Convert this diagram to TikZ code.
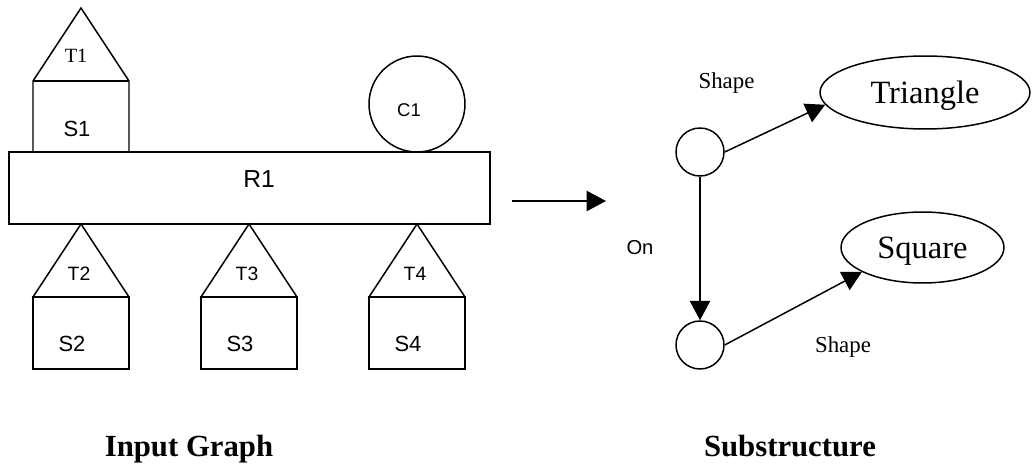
\documentclass[tikz,border=0pt]{standalone}
\usepackage{fontspec}
\setmainfont{Liberation Serif}
\setsansfont{Liberation Sans}
\usetikzlibrary{arrows.meta,shapes.geometric}

\begin{document}
\begin{tikzpicture}[
    x=0.02cm, y=-0.02cm,
    line width=0.85pt,
    lbl/.style={font=\sffamily\fontsize{12.5}{14}\selectfont, anchor=base, inner sep=0pt},
    tlbl/.style={font=\sffamily\fontsize{11}{12}\selectfont, anchor=base, inner sep=0pt},
    vertex/.style={circle, draw, minimum size=0.96cm, inner sep=0pt},
    value/.style={ellipse, draw, inner sep=0pt, text depth=0pt, font=\fontsize{18.5}{20}\selectfont},
    edgelbl/.style={font=\fontsize{13}{15}\selectfont, anchor=base, inner sep=0pt},
    link/.style={-{Triangle[length=11pt,width=11.5pt]}},
    title/.style={font=\bfseries\fontsize{17.5}{20}\selectfont, anchor=base, inner sep=0pt}
]
\useasboundingbox (0,0) rectangle (1036,466);

\draw (9,152) rectangle (490,224);
\node[lbl, font=\sffamily\fontsize{14}{16}\selectfont] (r1) at (259,188) {R1};

\draw (33,152) -- (33,81) -- (81,8) -- (129,81) -- (129,152);
\draw (33,81) -- (129,81);
\node[anchor=base, inner sep=0pt, font=\fontsize{11.5}{13}\selectfont] (t1) at (76,63) {T1};
\node[lbl] (s1) at (77,137) {S1};

\node[circle, draw, minimum size=1.92cm, inner sep=0pt] (circ) at (417,104) {};
\node[lbl, font=\sffamily\fontsize{10.5}{12}\selectfont] (c1) at (409,117) {C1};

\foreach \x/\i in {81/2, 249/3, 417/4} {
    \draw (\x,224) -- (\x-48,297) -- (\x+48,297) -- cycle;
    \draw (\x-48,297) rectangle (\x+48,369);
    \node[tlbl] (t\i) at (\x-2,280) {T\i};
    \node[lbl] (s\i) at (\x-9,352) {S\i};
}

\coordinate (from) at (512,201);
\coordinate (to) at (606,201);
\draw[link] (from) -- (to);

\node[vertex] (top) at (700,152) {};
\node[vertex] (bottom) at (700,345) {};
\node[value, minimum width=4.2cm, minimum height=1.46cm] (tri) at (925,92.5) {Triangle};
\node[value, minimum width=3.26cm, minimum height=1.42cm] (sq) at (922.5,247.5) {Square};
\draw[link] (top.east) -- (tri.187);
\draw[link] (top) -- (bottom);
\draw[link] (bottom.east) -- (sq.202);
\node[edgelbl] (shapetop) at (726.5,89) {Shape};
\node[edgelbl] (shapebot) at (843,353) {Shape};
\node[lbl, font=\sffamily\fontsize{11.5}{13}\selectfont] (on) at (640,255) {On};

\node[title] (input) at (189,457) {Input Graph};
\node[title] (sub) at (790,457) {Substructure};
\end{tikzpicture}
\end{document}
